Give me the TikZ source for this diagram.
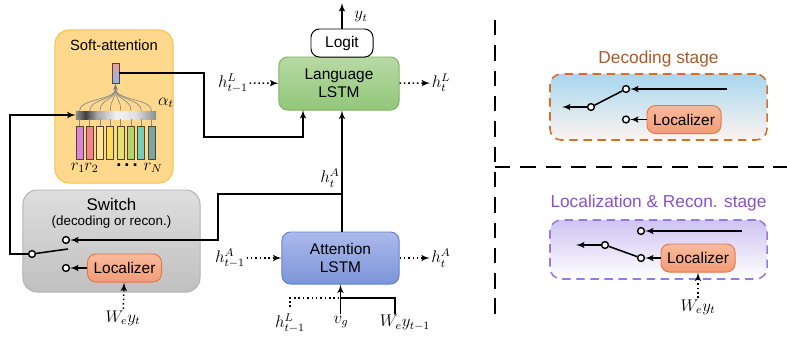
\documentclass[tikz,border=0pt]{standalone}
\usepackage{fontspec}
\setmainfont{Liberation Sans}
\usetikzlibrary{shapes,arrows,positioning}

\definecolor{softfill}{RGB}{254,216,140}
\definecolor{softdraw}{RGB}{247,192,72}
\definecolor{greentop}{RGB}{184,218,164}
\definecolor{greenbot}{RGB}{146,198,122}
\definecolor{greendraw}{RGB}{130,179,102}
\definecolor{bluetop}{RGB}{172,186,236}
\definecolor{bluebot}{RGB}{124,148,216}
\definecolor{bluedraw}{RGB}{100,130,205}
\definecolor{graytop}{RGB}{222,222,222}
\definecolor{graybot}{RGB}{192,192,192}
\definecolor{graydraw}{RGB}{178,178,178}
\definecolor{loctop}{RGB}{248,186,156}
\definecolor{locbot}{RGB}{242,156,120}
\definecolor{locdraw}{RGB}{228,120,70}
\definecolor{qtop}{RGB}{238,152,168}
\definecolor{qbot}{RGB}{140,184,236}
\definecolor{decdraw}{RGB}{214,110,40}
\definecolor{dectext}{RGB}{170,90,40}
\definecolor{dectop}{RGB}{168,214,240}
\definecolor{decbot}{RGB}{253,244,238}
\definecolor{recdraw}{RGB}{150,122,226}
\definecolor{rectext}{RGB}{138,80,200}
\definecolor{rectop}{RGB}{206,196,242}
\definecolor{recbot}{RGB}{255,255,255}
\definecolor{fa}{RGB}{220,130,225}
\definecolor{fb}{RGB}{245,130,140}
\definecolor{fc}{RGB}{253,228,150}
\definecolor{fd}{RGB}{253,222,90}
\definecolor{fe}{RGB}{228,225,110}
\definecolor{ff}{RGB}{180,210,110}
\definecolor{fg}{RGB}{120,205,185}
\definecolor{fh}{RGB}{120,165,165}
\definecolor{featdraw}{RGB}{80,70,40}

\pgfdeclarehorizontalshading{attbar}{100bp}{color(0bp)=(black!45); color(25bp)=(black!45);
  color(31bp)=(black!75); color(38bp)=(black!35); color(50bp)=(black!5);
  color(62bp)=(black!12); color(75bp)=(black!45); color(100bp)=(black!45)}

\tikzstyle{block} = [rectangle, rounded corners=6pt, draw, line width=0.7pt, inner sep=0pt,
  align=center, font=\fontsize{11}{13}\selectfont]
\tikzstyle{line} = [draw, line width=1.1pt, -latex']
\tikzstyle{dotline} = [draw, line width=1.1pt, dotted, -latex']
\tikzstyle{wire} = [draw, line width=1.1pt]
\tikzstyle{contact} = [circle, draw, line width=1pt, fill=white, inner sep=0pt, minimum size=0.17cm]
\tikzstyle{mathlbl} = [font=\fontsize{12}{14}\selectfont, inner sep=1pt]
\tikzstyle{stagebox} = [draw, dash pattern=on 6pt off 4pt, rounded corners=8pt, line width=1.1pt,
  minimum width=5.425cm]
\tikzstyle{localizer} = [block, top color=loctop, bottom color=locbot, draw=locdraw,
  minimum width=1.85cm, minimum height=0.7cm]
\tikzstyle{feat} = [rectangle, draw=featdraw, line width=0.6pt, inner sep=0pt,
  minimum width=0.175cm, minimum height=0.825cm]
\tikzstyle{sep} = [draw, line width=2pt, dash pattern=on 11pt off 7pt]

\begin{document}
\begin{tikzpicture}[x=0.025cm, y=-0.025cm]
\useasboundingbox (0,0) rectangle (787,337);

\node [block, fill=softfill, draw=softdraw, rounded corners=10pt, minimum width=2.95cm,
  minimum height=3.825cm] (softatt) at (114,106.5) {};
\node [font=\fontsize{10.5}{12}\selectfont] (softtitle) at (114,45) {Soft-attention};

\node [block, top color=graytop, bottom color=graybot, draw=graydraw, rounded corners=10pt,
  minimum width=4.425cm, minimum height=2.55cm] (switch) at (111.5,241) {};
\node [font=\fontsize{12}{14}\selectfont] (switchtitle) at (111.5,204) {Switch};
\node [font=\fontsize{9.5}{11}\selectfont] (switchsub) at (111.5,222) {(decoding or recon.)};

\node [block, top color=greentop, bottom color=greenbot, draw=greendraw,
  minimum width=3cm, minimum height=1.325cm] (lang) at (339,83.5) {Language\\LSTM};
\node [block, fill=white, draw=black, minimum width=1.55cm, minimum height=0.7cm]
  (logit) at (342,43) {Logit};
\node [block, top color=bluetop, bottom color=bluebot, draw=bluedraw,
  minimum width=2.925cm, minimum height=1.3cm] (att) at (340.5,258) {Attention\\LSTM};
\node [localizer] (loc_sw) at (124.5,268) {Localizer};

% soft-attention internals
\node [rectangle, shading=attbar, inner sep=0pt, minimum width=2cm, minimum height=0.2cm]
  (attbar) at (116,115) {};
\node [rectangle, top color=qtop, bottom color=qbot, draw=featdraw, line width=0.6pt,
  inner sep=0pt, minimum width=0.175cm, minimum height=0.5cm] (qvec) at (115.5,73) {};
\coordinate (qfoot) at (115.5,89);
\foreach \c [count=\i] in {fa,fb,fc,fd,fe,ff,fg,fh}
  \node [feat, fill=\c] (r\i) at ({79.5+10.3*(\i-1)},142.5) {};
\foreach \i in {1,...,8} {
  \draw [black!45, line width=0.5pt] (r\i.north) -- (r\i.north |- attbar.south);
  \draw [black!45, line width=0.5pt] (r\i.north |- attbar.north) .. controls +(0,-12) and (115.5,100) .. (qfoot);
}
\path [draw, black!55, line width=0.6pt, -latex'] (qfoot) -- (qvec.south);
\node [mathlbl] (alpha) at (166,103) {$\alpha_t$};
\node [mathlbl, inner sep=0pt] (r1lbl) at (78,168) {$r_1$};
\node [mathlbl, inner sep=0pt] (r2lbl) at (91.5,168) {$r_2$};
\node [font=\fontsize{13}{14}\selectfont\bfseries] (rdots) at (127,165) {.\,.\,.};
\node [mathlbl, inner sep=0pt] (rNlbl) at (153,168) {$r_N$};

% switch
\node [contact] (sw_top) at (66,240) {};
\node [contact] (sw_bot) at (66,268) {};
\node [contact] (sw_piv) at (32,254) {};
\coordinate (sw_lever) at (68,249);
\path [wire] (sw_piv) -- (sw_lever);
\path [line] (loc_sw) -- (sw_bot);
\path [line] (sw_piv) -- (10,254) -- (10,115) -- (attbar.west);
\node [mathlbl] (we_sw) at (123,318) {$W_e y_t$};
\path [dotline] (we_sw) -- (loc_sw);

% lstm connections
\coordinate (hbranch) at (342,194);
\coordinate (langin) at (303,110);
\path [line] (att.north -| hbranch) -- (lang.south -| hbranch);
\path [line] (hbranch) -- (218,194) -- (218,240) -- (sw_top);
\node [mathlbl] (ha_up) at (330,178) {$h_t^A$};
\path [line] (qvec.east) -- (204,73) -- (204,137) -| (langin);
\coordinate (yout) at (342,3);
\path [line] (logit.north) -- (yout);
\node [mathlbl] (yt) at (361,17) {$y_t$};

\node [mathlbl] (hl_in) at (233,83) {$h_{t-1}^L$};
\path [dotline] (hl_in) -- (lang);
\node [mathlbl] (hl_out) at (441,83) {$h_t^L$};
\path [dotline] (lang) -- (hl_out);
\node [mathlbl] (ha_in) at (230,258) {$h_{t-1}^A$};
\path [dotline] (ha_in) -- (att);
\node [mathlbl] (ha_out) at (441,258) {$h_t^A$};
\path [dotline] (att) -- (ha_out);

\node [mathlbl] (hl_low) at (290,323) {$h_{t-1}^L$};
\node [mathlbl] (vg) at (341,322) {$v_g$};
\node [mathlbl] (wy_low) at (405,323) {$W_e y_{t-1}$};
\coordinate (attjoin) at (340.5,298);
\draw [line width=1.1pt, dotted] (hl_low.north |- 0,307) -- (290,298) -- (attjoin);
\path [wire] (wy_low.north -| 395,0) -- (395,298) -- (attjoin);
\path [line] (vg.north -| attjoin) -- (att.south -| attjoin);

% stages
\path [sep] (495,20) -- (495,322);
\path [sep] (495,167) -- (787,167);

\node [stagebox, draw=decdraw, top color=dectop, bottom color=decbot, minimum height=1.65cm]
  (decbox) at (658.5,107) {};
\node [font=\fontsize{12.3}{14}\selectfont, text=dectext] (dectitle) at (658.5,59) {Decoding stage};
\node [localizer] (loc_dec) at (684,119.5) {Localizer};
\node [contact] (dec_top) at (626,89) {};
\node [contact] (dec_bot) at (626,119.5) {};
\node [contact] (dec_piv) at (591,107) {};
\coordinate (dec_in) at (727,89);
\coordinate (dec_out) at (562,107);
\path [wire] (dec_piv) -- (dec_top);
\path [line] (dec_in) -- (dec_top);
\path [line] (loc_dec) -- (dec_bot);
\path [line] (dec_piv) -- (dec_out);

\node [stagebox, draw=recdraw, top color=rectop, bottom color=recbot, minimum height=1.475cm]
  (recbox) at (658.5,249.5) {};
\node [font=\fontsize{12.3}{14}\selectfont, text=rectext] (rectitle) at (658.5,203)
  {Localization \& Recon. stage};
\node [localizer] (loc_rec) at (698,258) {Localizer};
\node [contact] (rec_top) at (641,231) {};
\node [contact] (rec_bot) at (641,258) {};
\node [contact] (rec_piv) at (605,245) {};
\coordinate (rec_in) at (742,231);
\coordinate (rec_out) at (576,245);
\path [wire] (rec_piv) -- (rec_bot);
\path [line] (rec_in) -- (rec_top);
\path [line] (loc_rec) -- (rec_bot);
\path [line] (rec_piv) -- (rec_out);
\node [mathlbl] (we_rec) at (698,307) {$W_e y_t$};
\path [dotline] (we_rec) -- (loc_rec);

\end{tikzpicture}
\end{document}
